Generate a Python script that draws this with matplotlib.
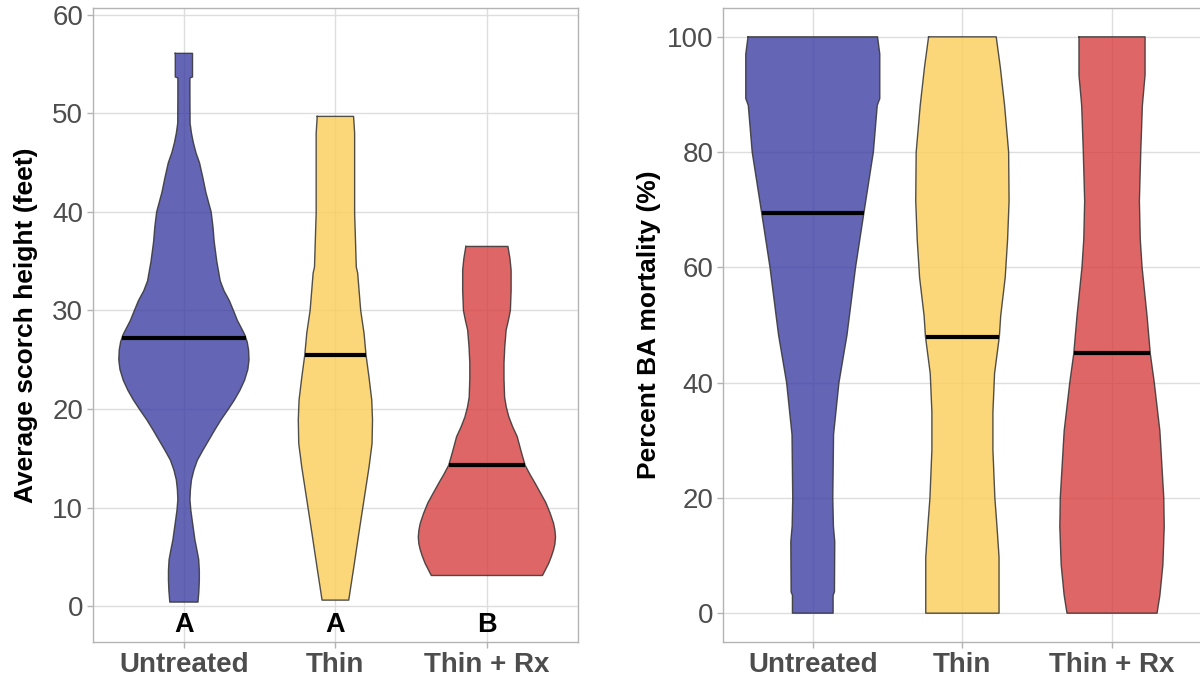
import numpy as np
import matplotlib
matplotlib.use("Agg")
import matplotlib.pyplot as plt

plt.rcParams['font.family'] = ['Liberation Sans', 'DejaVu Sans']

groups = ["Untreated", "Thin", "Thin + Rx"]
fills = ["#3D3EA3", "#FCCE59", "#D84040"]

# violin outlines: (y value, half width in category units)
scorch_profiles = [
    [(56.1, .057), (53.7, .057), (53.6, .040), (51.5, .040), (49.0, .041), (48.0, .050),
     (47.0, .063), (46.0, .080), (45.0, .103), (43.5, .125), (42.0, .145), (40.0, .180),
     (38.5, .192), (37.0, .200), (35.0, .217), (33.0, .240), (32.0, .265), (31.0, .300),
     (30.0, .327), (29.0, .353), (28.2, .380), (27.5, .403), (26.8, .418), (26.0, .427),
     (25.0, .430), (24.0, .422), (22.9, .400), (21.9, .370), (20.9, .333), (19.9, .290),
     (18.9, .245), (17.9, .205), (16.9, .167), (15.8, .125), (14.8, .089), (13.8, .066),
     (12.8, .050), (11.8, .043), (10.8, .040), (9.7, .046), (8.7, .055), (6.7, .073),
     (5.7, .086), (4.7, .098), (3.6, .102), (2.6, .102), (1.5, .099), (0.4, .093)],
    [(49.7, .120), (48.0, .127), (39.9, .127), (34.4, .138), (33.8, .147), (30.0, .167),
     (27.7, .189), (25.5, .202), (23.2, .222), (20.9, .240), (18.9, .245), (16.5, .242),
     (14.1, .222), (10.8, .189), (7.4, .155), (4.0, .122), (0.6, .088)],
    [(36.5, .139), (35.3, .152), (34.1, .160), (32.0, .160), (30.0, .155), (29.0, .142),
     (28.0, .127), (26.3, .118), (24.7, .113), (23.0, .113), (21.2, .117), (20.2, .128),
     (19.2, .145), (18.2, .170), (17.2, .200), (15.7, .226), (14.3, .252), (13.4, .283),
     (12.5, .317), (11.5, .353), (10.5, .389), (9.4, .418), (8.4, .440), (7.7, .449),
     (7.0, .453), (6.3, .449), (5.7, .440), (5.0, .425), (4.3, .407), (3.1, .367)],
]
scorch_medians = [27.2, 25.5, 14.3]
scorch_letters = ["A", "A", "B"]

mort_profiles = [
    [(100, .433), (97.0, .448), (89.3, .448), (88.1, .431), (80.0, .405), (69.5, .342),
     (60.0, .286), (48.3, .229), (40.0, .175), (31.0, .139), (20.0, .134), (15.1, .138),
     (12.4, .147), (3.7, .145), (3.1, .136), (0, .136)],
    [(100, .226), (94.8, .253), (88.1, .282), (80.0, .309), (71.5, .312), (64.8, .302),
     (58.2, .286), (51.6, .256), (48.0, .247), (41.6, .215), (34.9, .204), (28.3, .204),
     (20.0, .217), (15.1, .231), (9.7, .245), (0, .245)],
    [(100, .221), (93.4, .221), (88.1, .203), (80.0, .192), (71.5, .183), (64.8, .189),
     (60.0, .201), (51.6, .234), (45.0, .256), (40.1, .282), (31.6, .320), (20.0, .346),
     (15.0, .349), (8.4, .340), (3.1, .320), (0, .301)],
]
mort_medians = [69.4, 47.9, 45.1]

grid_col = "#DEDEDE"
border_col = "#B3B3B3"
text_col = "#4D4D4D"


def violins(ax, profiles, medians):
    for i, prof in enumerate(profiles):
        y = np.array([p[0] for p in prof])
        hw = np.array([p[1] for p in prof])
        ax.fill_betweenx(y, i - hw, i + hw, facecolor=fills[i], alpha=0.8,
                         edgecolor="none", zorder=2)
        xs = np.concatenate([i - hw, (i + hw)[::-1], [i - hw[0]]])
        ys = np.concatenate([y, y[::-1], [y[0]]])
        ax.plot(xs, ys, color="#333333", lw=1.0, alpha=0.85, zorder=3)
        w = np.interp(medians[i], y[::-1], hw[::-1])
        ax.plot([i - w, i + w], [medians[i], medians[i]], color="black",
                lw=3, solid_capstyle="butt", zorder=4)


def style(ax, ylabel, pad):
    ax.set_xlim(-0.6, 2.6)
    ax.set_xticks(range(3))
    ax.set_xticklabels(groups, fontsize=18.8, fontweight="bold", color=text_col)
    ax.grid(True, color=grid_col, lw=1, zorder=0)
    ax.set_axisbelow(True)
    for s in ax.spines.values():
        s.set_color(border_col)
        s.set_linewidth(1)
    ax.tick_params(colors=border_col, length=4, width=1, labelsize=20, pad=3)
    for lab in ax.get_yticklabels():
        lab.set_color(text_col)
    for lab in ax.get_xticklabels():
        lab.set_color(text_col)
    ax.set_ylabel(ylabel, fontsize=19, fontweight="bold", color="black", labelpad=pad)


fig = plt.figure(figsize=(12, 6.79), dpi=100)
ax1 = fig.add_axes([0.0775, 0.0545, 0.404, 0.9337])
ax2 = fig.add_axes([0.6025, 0.0545, 0.399, 0.9337])

violins(ax1, scorch_profiles, scorch_medians)
ax1.set_ylim(-3.65, 60.7)
ax1.set_yticks([0, 10, 20, 30, 40, 50, 60])
for i, t in enumerate(scorch_letters):
    ax1.text(i, -1.9, t, ha="center", va="center", fontsize=19.5, fontweight="bold",
             color="black")
style(ax1, "Average scorch height (feet)", 10)

violins(ax2, mort_profiles, mort_medians)
ax2.set_ylim(-5, 105)
ax2.set_yticks([0, 20, 40, 60, 80, 100])
style(ax2, "Percent BA mortality (%)", 4)

fig.savefig("out.png", dpi=100)
